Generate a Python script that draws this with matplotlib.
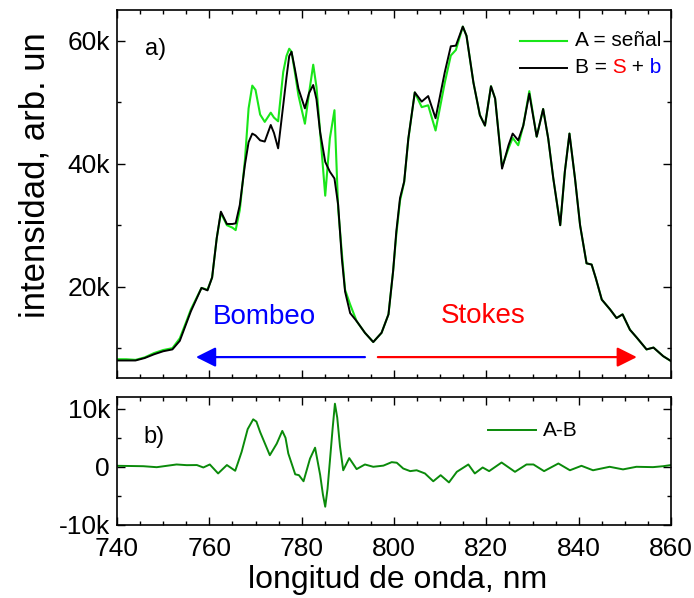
import numpy as np
import matplotlib.pyplot as plt
from matplotlib.ticker import MultipleLocator, FuncFormatter

plt.rcParams['font.family'] = ['Liberation Sans', 'DejaVu Sans']
plt.rcParams['lines.solid_joinstyle'] = 'round'

# wavelength grid (nm) and spectra (in thousands of counts)
wl = [740.0, 742.0, 744.0, 746.0, 748.0, 750.0, 752.0, 753.6, 755.0, 756.0,
      758.3, 759.6, 760.6, 761.6, 762.5, 763.8, 765.0, 765.7, 766.6, 767.7,
      768.5, 769.3, 770.0, 771.0, 772.0, 773.3, 774.0, 774.9, 776.0, 776.7,
      777.3, 777.8, 778.5, 779.3, 780.7, 781.6, 782.5, 783.2, 784.0, 785.1,
      786.1, 787.1, 787.9, 788.7, 789.4, 790.5, 791.9, 793.7, 795.5, 797.3,
      798.8, 799.8, 800.5, 801.3, 802.2, 803.1, 804.5, 806.0, 807.4, 809.0,
      811.0, 812.3, 813.4, 814.9, 815.7, 817.2, 818.6, 819.7, 821.0, 821.9,
      823.4, 824.8, 825.7, 826.9, 828.0, 829.3, 830.9, 832.3, 833.4, 834.5,
      836.0, 837.0, 838.0, 839.2, 840.3, 841.7, 842.8, 843.7, 845.0, 846.8,
      848.2, 849.5, 851.1, 852.6, 854.7, 856.2, 858.3, 860.0]

suma_b = [8.0, 8.0, 8.0, 8.4, 9.0, 9.5, 9.8, 11.2, 14.0, 16.0,
          19.8, 19.4, 21.5, 27.9, 32.2, 30.2, 30.2, 30.3, 33.3, 39.8,
          43.5, 44.9, 44.6, 43.8, 43.6, 46.3, 45.0, 42.5, 49.5, 54.0,
          57.5, 58.2, 55.5, 52.2, 49.0, 51.5, 52.8, 50.5, 45.1, 40.3,
          38.7, 37.6, 33.3, 24.6, 19.2, 15.7, 14.4, 12.5, 11.0, 12.5,
          15.5, 22.5, 29.0, 34.4, 37.1, 44.1, 51.6, 50.1, 51.0, 47.4,
          54.9, 59.1, 59.2, 62.3, 60.8, 53.2, 47.9, 46.2, 52.6, 50.6,
          39.2, 43.0, 44.9, 43.8, 46.2, 51.4, 44.4, 48.9, 44.1, 37.6,
          30.0, 38.7, 44.9, 37.6, 30.0, 23.8, 23.6, 21.4, 17.9, 16.3,
          14.9, 15.5, 13.0, 11.7, 9.8, 10.1, 8.7, 7.9]

senal_a = [8.2, 8.2, 8.1, 8.5, 9.2, 9.7, 10.0, 11.6, 14.3, 16.3,
           19.8, 19.5, 21.5, 27.9, 32.0, 30.0, 29.6, 29.2, 32.5, 40.5,
           49.0, 52.7, 52.0, 48.0, 46.8, 48.3, 47.5, 46.9, 54.9, 57.5,
           58.7, 58.2, 55.0, 51.1, 46.5, 51.5, 56.1, 52.5, 45.1, 34.8,
           44.1, 48.7, 32.7, 25.5, 19.5, 17.1, 14.4, 12.5, 11.0, 12.5,
           15.5, 22.5, 28.5, 34.0, 37.0, 44.0, 51.6, 49.2, 49.5, 45.4,
           53.2, 57.6, 58.5, 62.3, 60.8, 53.2, 47.9, 46.2, 52.6, 50.6,
           39.5, 42.5, 44.2, 43.0, 46.2, 51.8, 44.4, 48.9, 44.1, 37.6,
           30.0, 38.7, 44.9, 37.6, 30.0, 23.8, 23.6, 21.4, 17.9, 16.3,
           14.9, 15.5, 13.0, 11.7, 9.8, 10.1, 8.7, 7.9]

wl_d = [740.1, 745.7, 748.6, 752.9, 755.1, 757.3, 758.7, 760.1, 761.9, 763.8,
        765.6, 766.2, 767.0, 768.3, 769.5, 770.2, 771.0, 773.1, 774.6, 775.8,
        776.5, 777.1, 778.6, 779.4, 780.4, 781.8, 782.9, 784.0, 784.6, 785.1,
        785.6, 786.1, 786.7, 787.2, 787.7, 788.3, 789.0, 790.3, 791.9, 793.7,
        795.5, 797.7, 799.5, 800.6, 802.0, 803.5, 804.9, 806.7, 808.5, 810.1,
        811.9, 813.6, 816.1, 817.5, 819.2, 820.6, 823.3, 826.2, 828.7, 830.2,
        832.5, 835.6, 838.1, 840.6, 843.1, 846.7, 849.6, 852.5, 856.1, 858.3,
        860.0]

diff_ab = [0.17, 0.1, -0.07, 0.4, 0.28, 0.3, -0.12, 0.4, -1.15, 0.3,
           -0.69, 0.7, 2.6, 6.5, 8.2, 7.8, 6.0, 2.0, 4.0, 6.2,
           5.0, 2.3, -1.3, -1.45, -2.5, 1.4, 3.3, -1.4, -4.8, -6.9,
           -3.8, 0.9, 6.6, 10.9, 8.5, 3.5, -0.6, 1.5, -0.4, 0.4,
           0.0, 0.2, 0.8, 0.7, -0.3, -0.75, -0.6, -1.15, -2.5, -1.45,
           -2.7, -0.87, 0.4, -1.15, -0.12, -0.75, 0.74, -0.87, 0.4, 0.4,
           -0.75, 0.57, -0.6, 0.17, -0.6, 0.0, -0.45, 0.0, -0.06, 0.1,
           0.3]

wl = np.array(wl)
senal_a = np.array(senal_a) * 1000
suma_b = np.array(suma_b) * 1000
wl_d = np.array(wl_d)
diff_ab = np.array(diff_ab) * 1000


def k_fmt(v, pos):
    if abs(v) < 1:
        return '0'
    return f'{v / 1000:.0f}k'


def style_axes(ax):
    ax.tick_params(which='both', direction='in', top=True, right=True,
                   labelsize=19, width=1.0, pad=5)
    ax.tick_params(which='major', length=5.5)
    ax.tick_params(which='minor', length=3)
    ax.xaxis.set_major_locator(MultipleLocator(20))
    ax.xaxis.set_minor_locator(MultipleLocator(5))
    ax.yaxis.set_major_formatter(FuncFormatter(k_fmt))
    for s in ax.spines.values():
        s.set_linewidth(1.2)


fig = plt.figure(figsize=(6.94, 5.98), dpi=100)
ax1 = fig.add_axes([0.1686, 0.3684, 0.7983, 0.6149])
ax2 = fig.add_axes([0.1686, 0.1226, 0.7983, 0.2130])

# top panel: spectra
ax1.plot(wl, senal_a, color='#19e619', lw=1.5)
ax1.plot(wl, suma_b, color='black', lw=1.4)
ax1.set_xlim(740, 860)
ax1.set_ylim(5200, 65000)
ax1.yaxis.set_major_locator(MultipleLocator(20000))
ax1.yaxis.set_minor_locator(MultipleLocator(10000))
style_axes(ax1)
ax1.tick_params(labelbottom=False)

ax1.set_ylabel('intensidad, arb. un', fontsize=25)
ax1.yaxis.set_label_coords(-0.148, 0.55)
ax1.yaxis.label.set_va('center')

ax1.text(0.05, 0.894, 'a)', transform=ax1.transAxes, fontsize=17, va='center')

# legend drawn by hand so "S" and "b" can carry their own colours
ax1.plot([0.727, 0.812], [0.917, 0.917], transform=ax1.transAxes,
         color='#19e619', lw=1.5)
ax1.plot([0.727, 0.812], [0.843, 0.843], transform=ax1.transAxes,
         color='black', lw=1.4)
ax1.text(0.826, 0.917, 'A = señal', transform=ax1.transAxes, fontsize=15,
         va='center')
t = ax1.text(0.826, 0.843, 'B =', transform=ax1.transAxes, fontsize=15,
             va='center')
t = ax1.annotate(' S', xy=(1, 0), xycoords=t, va='bottom', fontsize=15,
                 color='red')
t = ax1.annotate(' +', xy=(1, 0), xycoords=t, va='bottom', fontsize=15)
ax1.annotate(' b', xy=(1, 0), xycoords=t, va='bottom', fontsize=15,
             color='blue')

# arrows and region labels
arrow = '-|>,head_length=0.6,head_width=0.3'
ax1.annotate('', xy=(757.1, 8550), xytext=(793.7, 8550),
             arrowprops=dict(arrowstyle=arrow, color='blue', lw=1.6,
                             mutation_scale=20, shrinkA=0, shrinkB=0))
ax1.annotate('', xy=(852.6, 8550), xytext=(796.5, 8550),
             arrowprops=dict(arrowstyle=arrow, color='red', lw=1.6,
                             mutation_scale=20, shrinkA=0, shrinkB=0))
ax1.text(771.8, 15000, 'Bombeo', color='blue', fontsize=20,
         ha='center', va='center')
ax1.text(819.3, 15300, 'Stokes', color='red', fontsize=20,
         ha='center', va='center')

# bottom panel: difference
ax2.plot(wl_d, diff_ab, color='#0a8a0a', lw=1.4)
ax2.set_xlim(740, 860)
ax2.set_ylim(-10000, 12000)
ax2.yaxis.set_major_locator(MultipleLocator(10000))
ax2.yaxis.set_minor_locator(MultipleLocator(5000))
style_axes(ax2)
ax2.tick_params(axis='x', pad=9)
ax2.text(0.047, 0.692, 'b)', transform=ax2.transAxes, fontsize=17,
         va='center')
ax2.plot([0.670, 0.756], [0.743, 0.743], transform=ax2.transAxes,
         color='#0a8a0a', lw=1.4)
ax2.text(0.769, 0.743, 'A-B', transform=ax2.transAxes, fontsize=15,
         va='center')

ax2.set_xlabel('longitud de onda, nm', fontsize=23)
ax2.xaxis.set_label_coords(0.507, -0.434)
ax2.xaxis.label.set_va('center')

fig.savefig('out.png', dpi=100)
